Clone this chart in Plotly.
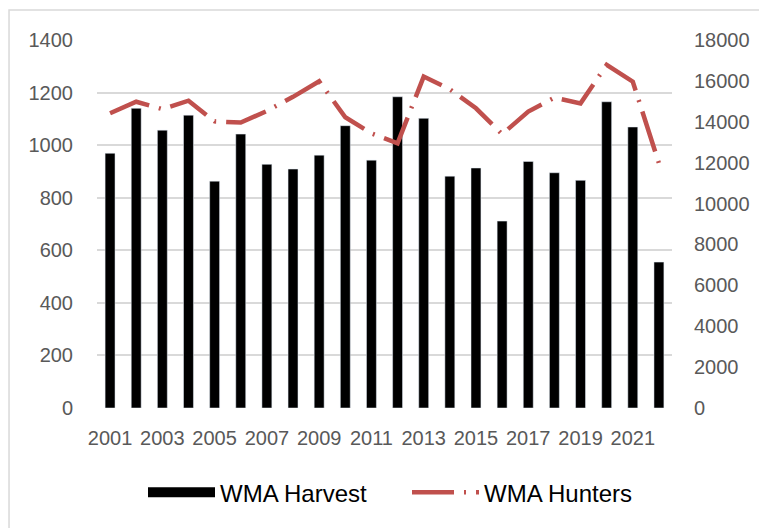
import plotly.graph_objects as go

YEARS = list(range(2001, 2023))
HARVEST = [969, 1140, 1057, 1114, 863, 1042, 927, 909, 962, 1074, 943,
           1184, 1102, 882, 913, 711, 938, 895, 866, 1165, 1069, 555]
HUNTERS = [14420, 14980, 14620, 15030, 14020, 13960, 14530, 15220, 15980, 14220, 13430,
           12950, 16210, 15590, 14660, 13390, 14500, 15180, 14900, 16780, 15960, 11970]
XTICKS = list(range(2001, 2022, 2))
Y1_TICKS = list(range(0, 1401, 200))
Y2_TICKS = list(range(0, 18001, 2000))

RED = "#C0504D"
GRID = "#D9D9D9"
TICK = "#595959"
FONT = "Liberation Sans, Arial, sans-serif"

fig = go.Figure()
fig.add_bar(x=YEARS, y=HARVEST, name="WMA Harvest", marker=dict(color="#000000"),
            showlegend=False)
# legend stand-in so the key shows a wide black block like the original
fig.add_scatter(x=[None], y=[None], mode="lines", name="WMA Harvest",
                line=dict(color="#000000", width=14))
fig.add_scatter(x=YEARS, y=HUNTERS, name="WMA Hunters", yaxis="y2", mode="lines",
                line=dict(color=RED, width=4.5, dash="42px,10px,2px,10px"))

# page body has an 8px margin, so the figure is sized to fit the window
fig.update_layout(
    width=759, height=520,
    paper_bgcolor="#FFFFFF", plot_bgcolor="#FFFFFF",
    font=dict(family=FONT, size=20, color=TICK),
    margin=dict(l=89, r=95, t=32, b=120),
    bargap=0.62,
    showlegend=True,
    legend=dict(orientation="h", x=0.08, xanchor="left", y=-0.23, yanchor="middle",
                font=dict(family=FONT, size=24, color="#000000"),
                itemwidth=67, entrywidth=182),
    xaxis=dict(range=[2000.5, 2022.5], tickmode="array", tickvals=XTICKS,
               ticktext=[str(t) for t in XTICKS], showgrid=False, zeroline=False,
               showline=False, ticks="", ticklabelstandoff=16,
               tickfont=dict(size=20, color=TICK)),
    yaxis=dict(range=[0, 1400], tickmode="array", tickvals=Y1_TICKS, showgrid=True,
               gridcolor=GRID, gridwidth=1.5, zeroline=False, ticks="",
               ticklabelstandoff=23, tickfont=dict(size=20, color=TICK)),
    yaxis2=dict(range=[0, 18000], tickmode="array", tickvals=Y2_TICKS,
                ticktext=[str(t) for t in Y2_TICKS], overlaying="y",
                side="right", showgrid=False, zeroline=False, ticks="",
                ticklabelstandoff=21, tickfont=dict(size=20, color=TICK)),
    shapes=[dict(type="rect", xref="paper", yref="paper", x0=-0.153, x1=1.3,
                 y0=-0.5, y1=1.0815, line=dict(color="#D9D9D9", width=1.5),
                 layer="below")],
)

fig.write_html("out.html")
